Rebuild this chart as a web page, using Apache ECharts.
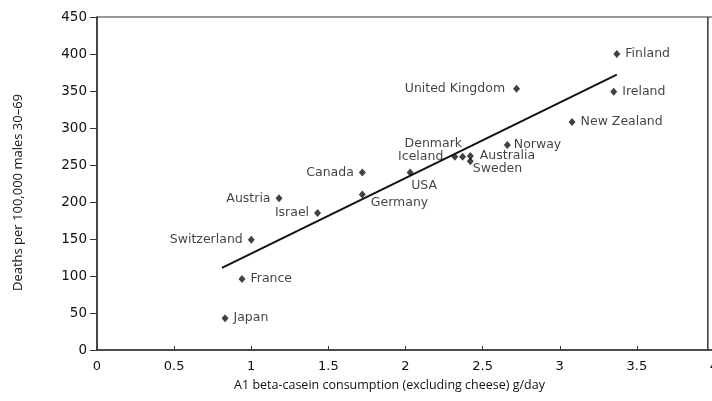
<!DOCTYPE html>
<html>
<head>
<meta charset="utf-8">
<script src="https://cdn.jsdelivr.net/npm/echarts@6/dist/echarts.min.js"></script>
<style>html,body{margin:0;padding:0;background:#fff;overflow:hidden}#c{width:712px;height:401px}</style>
</head>
<body>
<div id="c"></div>
<script>
// Data
var countries = ["Japan","France","Switzerland","Austria","Israel","Germany","Canada","USA","Iceland","Denmark","Australia","Sweden","Norway","United Kingdom","New Zealand","Ireland","Finland"];
var consumption = [0.83,0.94,1.00,1.18,1.43,1.72,1.72,2.03,2.32,2.37,2.42,2.42,2.66,2.72,3.08,3.35,3.37];
var deaths = [43,96,149,205,185,210,240,240,261,261,262,255,277,353,308,349,400];
var trendX = [0.81,3.37];
var trendY = [111,372];
var xTicks = [0,0.5,1,1.5,2,2.5,3,3.5,4];
var yTicks = [0,50,100,150,200,250,300,350,400,450];
var frameRightX = 3.96;

// label placement (style)
var labelCfg = {
  "Japan":{position:'right'},
  "France":{position:'right'},
  "Switzerland":{position:'left'},
  "Austria":{position:'left'},
  "Israel":{position:'left'},
  "Germany":{position:'right',offset:[0,8]},
  "Canada":{position:'left'},
  "USA":{position:'bottom',offset:[14,-2]},
  "Iceland":{position:'left',distance:8},
  "Denmark":{position:'left',offset:[8,-13]},
  "Australia":{position:'right',distance:6},
  "Sweden":{position:'right',offset:[-6,7]},
  "Norway":{position:'right',distance:3},
  "United Kingdom":{position:'left',distance:8},
  "New Zealand":{position:'right'},
  "Ireland":{position:'right'},
  "Finland":{position:'right'}
};

var pts = countries.map(function(c,i){
  var l = labelCfg[c];
  return {
    name:c,
    value:[consumption[i],deaths[i]],
    label:Object.assign({show:true, formatter:c, distance:5}, l)
  };
});

var font = "'Open Sans', sans-serif";
var wide = "'DejaVu Sans', sans-serif";
var chart = echarts.init(document.getElementById('c'));
chart.setOption({
  animation:false,
  backgroundColor:'#fff',
  grid:{left:97,right:-2,top:17,bottom:51,outerBoundsMode:'none',containLabel:false,show:true,borderColor:'#333',borderWidth:1.2,backgroundColor:'transparent'},
  xAxis:{
    type:'value',min:xTicks[0],max:xTicks[xTicks.length-1],interval:0.5,
    name:'A1 beta-casein consumption (excluding cheese) g/day',
    nameLocation:'middle',nameGap:29,
    nameTextStyle:{fontFamily:font,fontSize:12.5,color:'#111',padding:[0,32,0,0]},
    axisLine:{show:true,lineStyle:{color:'#333',width:1.5}},
    axisTick:{show:true,inside:true,length:4,lineStyle:{color:'#333'}},
    axisLabel:{fontFamily:wide,fontSize:13,color:'#111',margin:10,
      formatter:function(v){return String(v);}},
    splitLine:{show:false}
  },
  yAxis:{
    type:'value',min:yTicks[0],max:yTicks[yTicks.length-1],interval:50,
    name:'Deaths per 100,000 males 30\u201369',
    nameLocation:'middle',nameGap:72,
    nameTextStyle:{fontFamily:font,fontSize:13,color:'#111',padding:[0,18,0,0]},
    axisLine:{show:true,lineStyle:{color:'#333',width:1.5}},
    axisTick:{show:true,length:7,lineStyle:{color:'#333'}},
    axisLabel:{fontFamily:wide,fontSize:13.5,color:'#111',margin:10},
    splitLine:{show:false}
  },
  series:[
    {
      type:'line',
      data:trendX.map(function(x,i){return [x,trendY[i]];}),
      symbol:'none',
      lineStyle:{color:'#111',width:2},
      z:2
    },
    {
      type:'scatter',
      data:pts,
      symbol:'diamond',
      symbolSize:[7,8],
      itemStyle:{color:'#111'},
      label:{fontFamily:wide,fontSize:12.5,color:'#111'},
      z:3
    }
  ]
});
// right frame line, positioned through the axis scales
var pTop = chart.convertToPixel({gridIndex:0},[frameRightX,yTicks[yTicks.length-1]]);
var pBot = chart.convertToPixel({gridIndex:0},[frameRightX,yTicks[0]]);
chart.setOption({
  graphic:[{
    type:'line',z:10,silent:true,
    shape:{x1:pTop[0],y1:pTop[1],x2:pBot[0],y2:pBot[1]},
    style:{stroke:'#333',lineWidth:1.5}
  }]
});
</script>
</body>
</html>
